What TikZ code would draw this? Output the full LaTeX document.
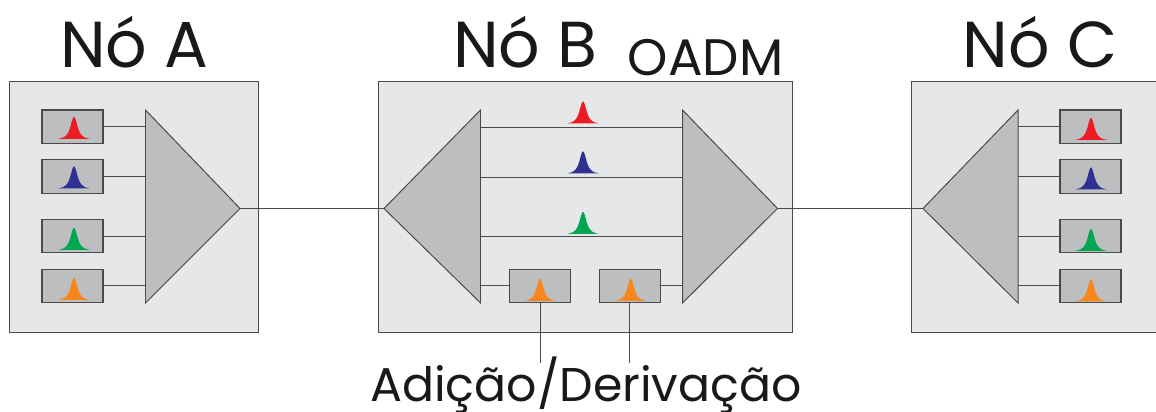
\documentclass[tikz,border=0pt]{standalone}
\usepackage{fontspec}
\setmainfont{Poppins}
\usepackage{xcolor}
\usetikzlibrary{positioning}

\definecolor{painel}{HTML}{E6E7E8}
\definecolor{cinza}{HTML}{BCBEC0}
\definecolor{linha}{HTML}{4A4A4C}
\definecolor{vermelho}{HTML}{ED1C24}
\definecolor{azul}{HTML}{2E3192}
\definecolor{verde}{HTML}{00A651}
\definecolor{laranja}{HTML}{F7861D}

\tikzset{
  panel/.style={draw=linha, fill=painel, line width=0.7pt},
  amp/.style={draw=linha, fill=cinza, line width=0.7pt, line join=miter},
  filtro/.style={draw=linha, fill=cinza, line width=0.8pt, minimum width=43.4pt, minimum height=23.8pt, inner sep=0pt, outer sep=0pt},
  fio/.style={draw=linha, line width=0.7pt},
  titulo/.style={anchor=base, inner sep=0pt, text=black!90, font=\fontsize{46.2}{46.2}\selectfont},
  legenda/.style={anchor=base, inner sep=0pt, text=black!90, font=\fontsize{33.7}{33.7}\selectfont}
}

% pico espectral: base centrada em (x,y)
\newcommand{\pico}[3]{\fill[#3, shift={(#1,#2)}] plot[domain=-15.5:15.5, samples=61, smooth] (\x,{-23/(1+(abs(\x)/4.2)^2.2)});}

\begin{document}
\begin{tikzpicture}[x=0.025cm, y=-0.025cm]
\useasboundingbox (0,0) rectangle (1156,412);

% paineis
\node[panel, minimum width=176.4pt, minimum height=177.8pt, inner sep=0pt] (painelA) at (134,207) {};
\node[panel, minimum width=293.8pt, minimum height=177.8pt, inner sep=0pt] (painelB) at (585.5,207) {};
\node[panel, minimum width=200pt, minimum height=177.8pt, inner sep=0pt] (painelC) at (1052,207) {};

% titulos
\node[titulo] (tituloA) at (134.5,68) {Nó A};
\node[titulo] (tituloB) at (525.5,68) {Nó B};
\node[titulo] (tituloC) at (1040,68) {Nó C};
\node[legenda, font=\fontsize{36.5}{36.5}\selectfont] (oadm) at (705.5,76) {OADM};
\node[legenda] (adder) at (586,401) {Adição/Derivação};

% No A
\coordinate (baseA) at (145.5,208.5);
\coordinate (saidaA) at (240,208.5);
\draw[amp] (145.5,110) -- (saidaA) -- (145.5,303) -- cycle;
\node[filtro] (a1) at (72.5,126.7) {};
\node[filtro] (a2) at (72.5,176.5) {};
\node[filtro] (a3) at (72.5,236.2) {};
\node[filtro] (a4) at (72.5,285.8) {};
\draw[fio] (a1.east) -- (a1.east -| baseA);
\draw[fio] (a2.east) -- (a2.east -| baseA);
\draw[fio] (a3.east) -- (a3.east -| baseA);
\draw[fio] (a4.east) -- (a4.east -| baseA);
\pico{74}{140}{vermelho}
\pico{74}{189.5}{azul}
\pico{74}{251}{verde}
\pico{74}{301}{laranja}

% No B
\coordinate (entradaB) at (384,208.5);
\coordinate (baseB) at (480.5,208.5);
\coordinate (baseBs) at (682.5,208.5);
\coordinate (saidaB) at (777.5,208.5);
\draw[amp] (480.5,110) -- (entradaB) -- (480.5,303) -- cycle;
\draw[amp] (682.5,110) -- (saidaB) -- (682.5,303) -- cycle;
\coordinate (l1) at (480.5,127);
\coordinate (l2) at (480.5,177);
\coordinate (l3) at (480.5,236.5);
\draw[fio] (l1) -- (l1 -| baseBs);
\draw[fio] (l2) -- (l2 -| baseBs);
\draw[fio] (l3) -- (l3 -| baseBs);
\pico{583}{124.5}{vermelho}
\pico{583}{174.5}{azul}
\pico{583}{235}{verde}
\node[filtro] (b1) at (540.2,285.8) {};
\node[filtro] (b2) at (629.8,285.8) {};
\pico{540}{302}{laranja}
\pico{630.7}{302}{laranja}
\draw[fio] (b1.west -| baseB) -- (b1.west);
\draw[fio] (b2.east) -- (b2.east -| baseBs);
\coordinate (d1) at (540.2,362.7);
\coordinate (d2) at (629.8,362.7);
\draw[fio] (b1.south) -- (d1);
\draw[fio] (b2.south) -- (d2);

% No C
\coordinate (entradaC) at (923,208.5);
\coordinate (baseC) at (1018,208.5);
\draw[amp] (1018,110) -- (entradaC) -- (1018,303) -- cycle;
\node[filtro] (c1) at (1090.5,126.7) {};
\node[filtro] (c2) at (1090.5,176.5) {};
\node[filtro] (c3) at (1090.5,236.2) {};
\node[filtro] (c4) at (1090.5,285.8) {};
\draw[fio] (c1.west -| baseC) -- (c1.west);
\draw[fio] (c2.west -| baseC) -- (c2.west);
\draw[fio] (c3.west -| baseC) -- (c3.west);
\draw[fio] (c4.west -| baseC) -- (c4.west);
\pico{1091}{141}{vermelho}
\pico{1091}{190.5}{azul}
\pico{1091}{252}{verde}
\pico{1091}{302.5}{laranja}

% ligacoes entre nos
\draw[fio] (saidaA) -- (entradaB);
\draw[fio] (saidaB) -- (entradaC);
\end{tikzpicture}
\end{document}
